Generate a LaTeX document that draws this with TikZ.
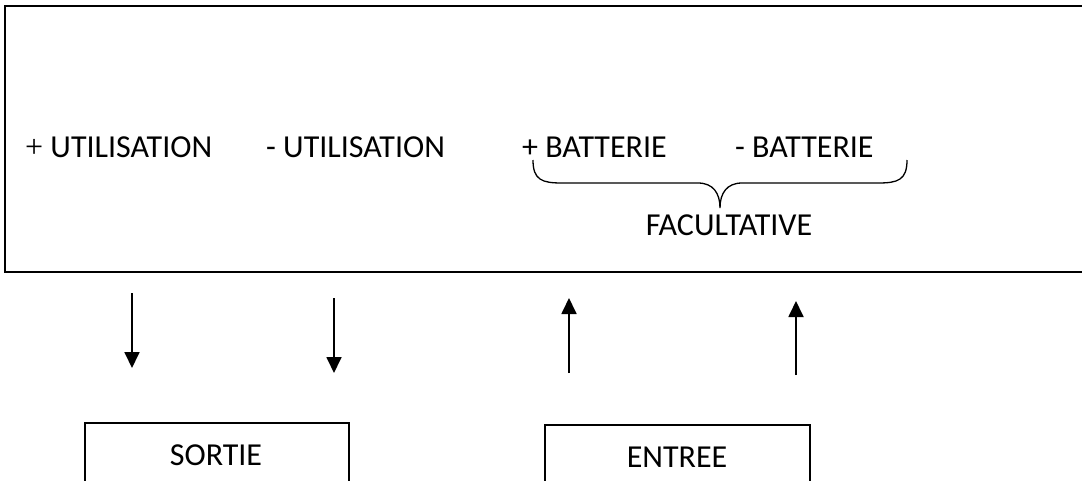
\documentclass[tikz,border=0pt]{standalone}
\usepackage{fontspec}
\setmainfont{Carlito}
\newfontfamily\serifplus{Liberation Serif}
\usetikzlibrary{arrows.meta}
\begin{document}
\begin{tikzpicture}[x=1pt,y=-1pt,
  lbl/.style={inner sep=0pt,anchor=base west,font=\fontsize{32}{38}\selectfont},
  clbl/.style={inner sep=0pt,anchor=base,font=\fontsize{32}{38}\selectfont},
  frame/.style={draw=black,line width=1.7pt},
  arr/.style={draw=black,line width=1.8pt,-{Triangle[length=16pt,width=15pt]}},
  brace/.style={draw=black,line width=1.3pt}]
\useasboundingbox (0,0) rectangle (1082,480);
\clip (0,0) rectangle (1082,480);
\fill[white] (0,0) rectangle (1082,480);
% main frame
\draw[frame] (5,6) rectangle (1100,272);
% labels
\node[lbl] (u1) at (25,157) {{\serifplus +} UTILISATION};
\node[lbl] (u2) at (266,157) {- UTILISATION};
\node[lbl] (b1) at (522,157) {+ BATTERIE};
\node[lbl] (b2) at (735,157) {- BATTERIE};
\node[clbl] (fac) at (729,235) {FACULTATIVE};
% brace
\coordinate (brL) at (533,160);
\coordinate (brT) at (720,208);
\coordinate (brR) at (907,160);
\draw[brace] (brL) .. controls (533,180) and (542,183) .. (562,183) -- (698,183)
  .. controls (713,183) and (720,193) .. (brT)
  .. controls (720,193) and (727,183) .. (742,183) -- (878,183)
  .. controls (898,183) and (907,180) .. (brR);
% lower boxes
\draw[frame,line width=1.5pt] (85,423) rectangle (349,500);
\draw[frame,line width=1.5pt] (545,425) rectangle (810,500);
\node[clbl] (sortie) at (216,465) {SORTIE};
\node[clbl] (entree) at (677,467) {ENTREE};
% arrows
\coordinate (a1s) at (132,293); \coordinate (a1e) at (132,368);
\coordinate (a2s) at (334,298); \coordinate (a2e) at (334,373);
\coordinate (a3s) at (569,373); \coordinate (a3e) at (569,298);
\coordinate (a4s) at (796,375); \coordinate (a4e) at (796,301);
\draw[arr] (a1s) -- (a1e);
\draw[arr] (a2s) -- (a2e);
\draw[arr] (a3s) -- (a3e);
\draw[arr] (a4s) -- (a4e);
\end{tikzpicture}
\end{document}
